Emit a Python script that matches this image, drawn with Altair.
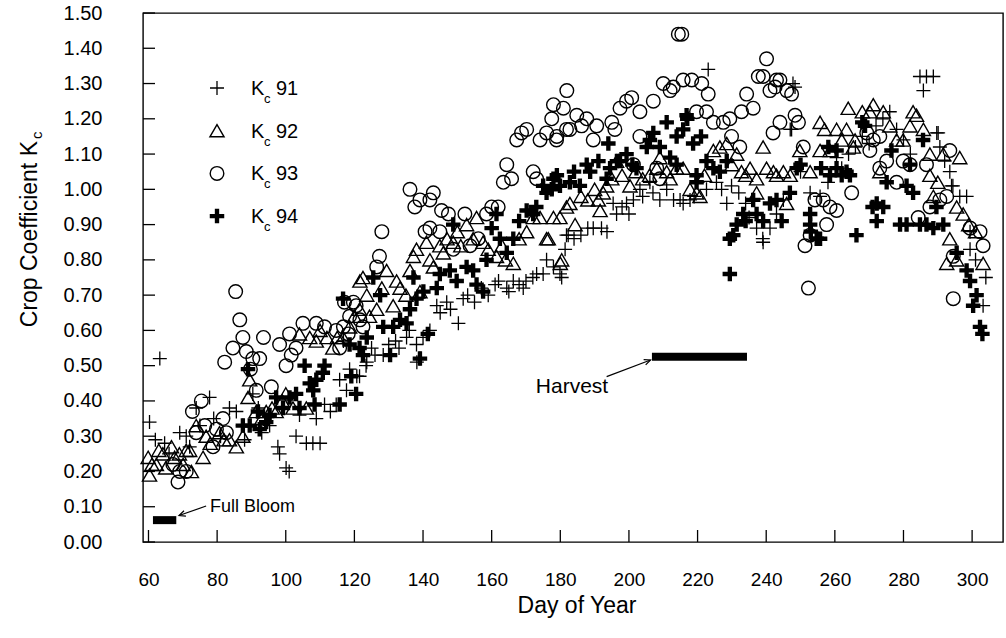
import altair as alt
import pandas as pd

# ---------------- data ----------------
kc91 = [(60.3,0.34),(63.3,0.52),(62,0.29),(64.7,0.28),(66,0.25),(69.1,0.31),(71,0.30),(72,0.27),(73.9,0.38),(75,0.33),
        (77.8,0.41),(79,0.35),(81,0.30),(83.6,0.38),(85.6,0.37),(87.5,0.33),(88,0.29),(90.4,0.42),(92,0.38),(93,0.31),
        (95.3,0.33),(97.7,0.27),(98.2,0.25),(100.1,0.21),(101,0.20),(103,0.30),(104,0.36),(106,0.28),(107.9,0.28),(108.9,0.35),
        (110,0.28),(111.3,0.39),(113,0.37),(114.7,0.39),(115.7,0.46),(116.8,0.57),(117.7,0.43),(118.6,0.49),(120.7,0.47),(121.5,0.47),
        (123.4,0.50),(123.6,0.51),(125,0.55),(126,0.53),(128.4,0.53),(130,0.56),(132,0.57),(133,0.55),(135.2,0.58),(136,0.60),
        (138.1,0.56),(138.2,0.51),(139.1,0.52),(140,0.58),(142,0.60),(144,0.67),(145,0.65),(146.9,0.68),(148,0.66),(150.3,0.62),
        (151.7,0.69),(153,0.70),(155,0.68),(157,0.72),(159,0.70),(161,0.73),(162,0.74),(164.4,0.72),(165,0.71),(166.3,0.74),
        (168,0.73),(169.2,0.72),(170,0.74),(172,0.75),(173.1,0.76),(175,0.76),(176,0.80),(178,0.78),(179.9,0.76),(180.4,0.75),
        (181.4,0.83),(181.8,0.87),(182.3,0.87),(184,0.86),(186,0.87),(188,0.89),(189.6,0.89),(192,0.89),(193.6,0.88),(195.4,0.96),
        (196.4,0.93),(198,0.95),(199.3,0.96),(200,0.93),(201.3,0.97),(203.2,1.00),(204,0.98),(206.1,1.02),(207,0.99),(209,0.97),
        (211,1.00),(213,0.97),(214.9,0.97),(215.8,0.96),(217.8,0.97),(219,0.98),(220,1.02),(222.6,1.00),(223.1,1.34),(225.5,1.02),
        (227,1.00),(228.5,0.96),(229.9,1.01),(232,0.99),(234,0.96),(235,0.92),(237.2,0.89),(239,0.86),(239.1,0.85),(241.1,0.89),
        (243,0.93),(245,0.97),(247,1.17),(247.4,1.17),(247.8,1.30),(248.4,1.29),(250,1.05),(252.8,0.99),(255.7,0.98),(258,1.02),
        (260.5,1.09),(262,1.06),(264,1.10),(266,1.12),(268,1.15),(270,1.13),(272,1.18),(274,1.20),(276,1.22),(278,1.17),
        (280,1.14),(282,1.10),(284.8,1.32),(285.8,1.28),(286.7,1.32),(288.7,1.32),(289.7,1.16),(290.1,1.16),(290.6,1.12),(292,1.08),
        (293.5,1.05),(294,1.01),(294.4,1.01),(296.4,0.98),(298.4,0.98),(299.4,0.88),(299.4,0.83),(301,0.80),(303.2,0.67),(304,0.75)]

kc92 = [(59.9,0.24),(60.3,0.19),(61,0.22),(62.3,0.22),(63,0.26),(64.2,0.25),(65,0.21),(66.7,0.27),(67.6,0.24),(69,0.25),
        (70.1,0.22),(71,0.26),(72,0.26),(72.5,0.20),(73.9,0.33),(75.9,0.24),(76.8,0.30),(78,0.28),(80.7,0.31),(82,0.29),
        (83.6,0.29),(85.6,0.27),(87.5,0.30),(89,0.41),(89.5,0.46),(91.4,0.37),(93,0.35),(94.3,0.37),(96,0.38),(97.2,0.37),
        (99,0.40),(100,0.42),(102.1,0.38),(104,0.59),(106,0.38),(107,0.58),(108.9,0.57),(110,0.60),(112,0.58),(113.7,0.55),
        (115,0.58),(116.7,0.58),(118.6,0.61),(120,0.64),(121.5,0.66),(121.6,0.74),(122.5,0.75),(123.6,0.70),(124.4,0.64),(126.5,0.66),
        (128,0.72),(129.4,0.77),(131.3,0.67),(132.3,0.74),(133.3,0.72),(135,0.70),(136.2,0.77),(137.2,0.81),(138.1,0.83),(139.1,0.71),
        (141,0.85),(142,0.80),(143,0.78),(144.9,0.84),(145.9,0.82),(147,0.86),(148.8,0.85),(150,0.88),(151,0.84),(152.7,0.90),
        (154.6,0.86),(155.6,0.92),(157.5,0.85),(159,0.83),(161.4,0.81),(163,0.84),(164,0.80),(166.3,0.79),(168,0.86),(170.2,0.88),
        (172.1,0.92),(174.1,0.92),(176,0.86),(176.5,0.86),(178,0.92),(179.9,0.92),(180,0.79),(180.4,0.80),(181.8,0.95),(182.8,0.96),
        (184.3,0.90),(186,0.98),(188,0.97),(190,1.00),(191.1,0.97),(191.6,0.94),(192.5,0.99),(193.5,1.01),(195,1.03),(196.4,1.08),
        (198,1.04),(200.3,1.01),(202,1.05),(204,1.03),(206,1.04),(208.1,1.06),(209,1.09),(211,1.05),(212,1.03),(213.9,1.06),
        (215.8,1.06),(217.8,1.00),(219.7,0.99),(220.7,0.98),(222,1.04),(224.6,1.11),(226.5,1.12),(228.5,1.13),(230,1.07),(231.4,1.10),
        (232.8,1.05),(234,1.04),(235.3,1.06),(237.2,1.03),(237.2,0.99),(239.1,1.12),(240.1,1.06),(242.1,1.05),(243,1.04),(245,1.05),
        (245.95,0.96),(247,1.04),(249.8,1.11),(252.8,1.05),(255.7,1.11),(255.7,1.19),(257,1.17),(258.6,1.11),(260.5,1.17),(262,1.14),
        (263.4,1.17),(263.9,1.23),(265.4,1.12),(265.9,1.14),(268,1.22),(270.2,1.22),(271.2,1.24),(273.1,1.05),(274.1,1.22),(276,1.18),
        (278,1.14),(279.9,1.14),(281.9,1.18),(282.8,1.22),(283.8,1.21),(285.8,1.17),(287.7,1.10),(287.7,1.04),(288.7,0.98),(290,1.02),
        (291.6,1.10),(292.6,0.79),(293.5,0.86),(295.5,0.95),(295.5,0.80),(296.4,1.09),(297.4,0.93),(299,0.90),(301,0.88),(303.2,0.79)]

kc93 = [(67.1,0.22),(68.6,0.17),(69.1,0.20),(71,0.20),(72.8,0.37),(73.9,0.31),(75.4,0.40),(76.4,0.33),(78.8,0.27),(79.8,0.32),
        (81.7,0.35),(82.2,0.51),(82.7,0.31),(84.6,0.55),(85.4,0.71),(86.6,0.63),(87.5,0.58),(88.5,0.54),(89.7,0.49),(90.4,0.52),
        (91.4,0.43),(92.4,0.52),(93.5,0.58),(95.8,0.44),(98.2,0.56),(100.1,0.50),(101.1,0.59),(101.6,0.53),(103,0.55),(105,0.62),
        (108.9,0.62),(111.3,0.61),(114.7,0.60),(115.7,0.55),(116.8,0.61),(117.1,0.68),(118.2,0.59),(118.6,0.64),(119.7,0.68),(120.5,0.67),
        (121.6,0.63),(122.5,0.61),(126.5,0.78),(127.3,0.81),(128,0.88),(136.2,1.00),(137.6,0.95),(139.1,0.97),(140.6,0.88),(142,0.89),
        (142,0.97),(143,0.99),(144.9,0.88),(145.4,0.94),(147.4,0.93),(148.8,0.83),(152.2,0.93),(153.7,0.84),(156.1,0.86),(158.5,0.93),
        (160,0.95),(161.9,0.95),(163.4,1.02),(164.4,1.07),(165.8,1.03),(167.3,1.14),(168.7,1.16),(170.2,1.17),(172.1,1.05),(173.1,1.03),
        (174.1,1.14),(176,1.16),(177.5,1.20),(178,1.24),(178.9,1.14),(179,1.15),(180.9,1.23),(181.8,1.17),(181.9,1.28),(182.8,1.17),
        (184.8,1.21),(186.2,1.18),(187.7,1.20),(189.6,1.14),(190.6,1.18),(195,1.19),(195.9,1.17),(197.4,1.23),(199.3,1.25),(200.8,1.26),
        (201.3,1.07),(203.2,1.22),(203.2,1.15),(207.1,1.25),(208.1,1.06),(209,1.03),(210,1.30),(212,1.28),(212.9,1.29),(214.4,1.44),
        (215.4,1.44),(215.8,1.31),(218.3,1.31),(219.7,1.22),(221.2,1.30),(222.6,1.22),(223.1,1.27),(224.6,1.19),(227.5,1.19),(229.4,1.20),
        (229.9,1.15),(232.3,1.12),(232.8,1.22),(234.3,1.27),(236.2,1.23),(237.7,1.32),(239.1,1.32),(240.1,1.37),(241.1,1.28),(242,1.16),
        (242.6,1.29),(243,1.31),(244,1.31),(244,1.19),(246,1.28),(247.4,1.27),(248.4,1.21),(249.4,1.19),(250.8,1.12),(251.3,0.84),
        (252.3,0.72),(252.8,0.87),(254.2,0.97),(256.6,0.97),(257.6,0.90),(258.6,0.95),(260.5,0.94),(264.9,0.99),(269.3,1.16),(270.2,1.11),
        (271.2,1.14),(273.1,1.15),(273.1,1.06),(275.1,1.08),(278,1.02),(279.9,1.08),(281.9,1.07),(284.3,0.92),(286.7,1.07),(287.7,0.95),
        (290.6,0.97),(292.6,0.98),(293.5,1.11),(294.5,0.81),(294.5,0.69),(299.4,0.89),(302.3,0.88),(303.2,0.84)]

kc94 = [(87.5,0.33),(89,0.49),(89.5,0.33),(91.9,0.37),(92.4,0.32),(94.3,0.34),(95.3,0.36),(97.2,0.41),(99.2,0.38),(101.1,0.41),
        (103,0.42),(104,0.38),(105.5,0.50),(107,0.45),(108,0.43),(108.4,0.39),(108.9,0.46),(110.8,0.48),(111.3,0.50),(115.7,0.39),
        (116.7,0.69),(118.6,0.56),(119.1,0.47),(120.5,0.42),(121.5,0.55),(122.5,0.53),(123.6,0.58),(125.5,0.75),(127.5,0.70),(128.4,0.61),
        (130.4,0.53),(131.3,0.61),(133.3,0.63),(135.2,0.62),(136.2,0.66),(137.2,0.75),(138.1,0.69),(139.1,0.52),(140.1,0.71),(141.4,0.59),
        (144,0.72),(144.9,0.76),(147.8,0.77),(148.8,0.90),(149.8,0.74),(152.7,0.78),(154.6,0.77),(155.6,0.73),(157.5,0.71),(158.5,0.80),
        (160,0.89),(161.4,0.93),(162.4,0.86),(164.4,0.82),(166.3,0.86),(168,0.91),(170.2,0.94),(172.1,0.93),(173,0.95),(175,1.01),
        (176,0.99),(177.5,1.00),(178,1.03),(179,1.04),(179.9,1.01),(182.8,1.02),(184,1.05),(185.7,1.01),(187.7,1.07),(188.7,1.05),
        (191.1,1.08),(193.5,1.03),(194,1.13),(194.5,1.06),(196.5,1.08),(197.4,1.08),(199.3,1.10),(201,1.07),(202.2,1.06),(205.2,1.12),
        (206.1,1.14),(207.1,1.16),(209,1.12),(211,1.19),(212,1.09),(213.9,1.15),(213.9,1.07),(215.8,1.17),(216.8,1.21),(217,1.20),
        (218.7,1.13),(219.7,1.04),(219.7,1.02),(221,1.15),(222.6,1.08),(224.6,1.06),(226.5,1.05),(228.5,1.08),(229.4,0.76),(229.4,0.86),
        (230.4,0.87),(231.4,0.90),(233.3,0.93),(234,0.91),(236.2,0.97),(237.2,0.93),(239.1,0.91),(241.1,0.96),(243,0.97),(244.5,0.91),
        (246.9,0.99),(248.9,1.06),(250,1.07),(252.8,0.93),(252.8,0.90),(253,0.88),(254.7,0.86),(255.7,0.86),(256,1.06),(258.1,1.12),
        (258.6,1.04),(260.5,1.11),(260.5,1.06),(262,1.04),(263.4,1.05),(264.4,1.04),(266.3,0.87),(268,1.19),(268.8,1.18),(271,0.95),
        (272.2,0.96),(272.2,0.91),(274.1,0.95),(275.1,1.02),(276.5,1.11),(279,0.90),(280.9,1.01),(280.9,0.90),(281.9,1.07),(282.8,0.99),
        (284.8,0.90),(285.7,1.14),(286.7,0.90),(288.7,0.89),(289.6,0.95),(291.6,0.90),(295.5,0.82),(298.4,0.77),(299.4,0.74),(300.3,0.67),
        (301.3,0.70),(302.3,0.61),(303,0.59)]

x_ticks = [60, 80, 100, 120, 140, 160, 180, 200, 220, 240, 260, 280, 300]
y_ticks = [0.0, 0.1, 0.2, 0.3, 0.4, 0.5, 0.6, 0.7, 0.8, 0.9, 1.0, 1.1, 1.2, 1.3, 1.4, 1.5]

series_names = ["91", "92", "93", "94"]

# phenology bars: label, start day, end day, Kc level
bars = [("Full Bloom", 61.3, 68.1, 0.062), ("Harvest", 206.7, 234.4, 0.525)]
# annotation arrows: tip day, tip Kc, tail day, tail Kc, head angle
arrows = [(68.9, 0.075, 76.8, 0.102, 340), (206.3, 0.516, 193.5, 0.469, 159)]
# annotation labels: text, day, Kc, align
notes = [("Full Bloom", 77.9, 0.099, "left"), ("Harvest", 183.4, 0.44, "center")]

# ---------------- chart ----------------
FONT = "Liberation Sans"
W, H = 860, 529

xs = alt.Scale(domain=[58.4, 309], nice=False, zero=False)
ys = alt.Scale(domain=[0, 1.5], nice=False, zero=False)

x_axis = alt.Axis(values=x_ticks, ticks=False, tickSize=0, domain=False, grid=False,
                  labelFontSize=19, labelFont=FONT, labelColor="black", labelPadding=28,
                  title=None, labelFlush=False)
y_axis = alt.Axis(values=y_ticks, ticks=False, tickSize=0, domain=False, grid=False,
                  labelFontSize=20, labelFont=FONT, labelColor="black", labelPadding=41,
                  format=".2f", title=None)

X = alt.X("day:Q", scale=xs, axis=x_axis)
Y = alt.Y("kc:Q", scale=ys, axis=y_axis)
X2 = alt.X2("day2:Q")
Y2 = alt.Y2("kc2:Q")

PLUS = "M-1,0L1,0M0,-1L0,1"
CROSS = ("M-1,-0.3L-0.3,-0.3L-0.3,-1L0.3,-1L0.3,-0.3L1,-0.3L1,0.3L0.3,0.3"
         "L0.3,1L-0.3,1L-0.3,0.3L-1,0.3Z")
ARROWHEAD = "M1,-0.45L0,0L1,0.45"

styles = {
    "91": dict(shape=PLUS, size=196, filled=False, stroke="black", strokeWidth=1.3, opacity=1),
    "92": dict(shape="triangle-up", size=200, filled=False, stroke="black", strokeWidth=1.4, opacity=1),
    "93": dict(shape="circle", size=185, filled=False, stroke="black", strokeWidth=1.4, opacity=1),
    "94": dict(shape=CROSS, size=210, filled=True, fill="black", strokeWidth=0, opacity=1),
}
data = {"91": kc91, "92": kc92, "93": kc93, "94": kc94}

layers = []

# inward ticks
layers.append(alt.Chart(pd.DataFrame({"kc": y_ticks})).mark_rule(color="black", strokeWidth=1.3)
              .encode(y=Y, x=alt.value(0), x2=alt.value(12)))
layers.append(alt.Chart(pd.DataFrame({"day": x_ticks})).mark_rule(color="black", strokeWidth=1.3)
              .encode(x=X, y=alt.value(H), y2=alt.value(H - 12)))

# scatter series
for name in series_names:
    df = pd.DataFrame(data[name], columns=["day", "kc"])
    layers.append(alt.Chart(df).mark_point(**styles[name]).encode(x=X, y=Y))

# phenology bars
bdf = pd.DataFrame(bars, columns=["label", "day", "day2", "kc"])
layers.append(alt.Chart(bdf).mark_rule(color="black", strokeWidth=8, strokeCap="butt")
              .encode(x=X, x2=X2, y=Y))

# arrows
adf = pd.DataFrame(arrows, columns=["day", "kc", "day2", "kc2", "ang"])
layers.append(alt.Chart(adf).mark_rule(color="black", strokeWidth=1.2)
              .encode(x=X, x2=X2, y=Y, y2=Y2))
layers.append(alt.Chart(adf).mark_point(shape=ARROWHEAD, size=160, filled=False, stroke="black",
                                        strokeWidth=1.2, opacity=1)
              .encode(x=X, y=Y, angle=alt.Angle("ang:Q", scale=None)))

# annotation labels
for text, d, k, al in notes:
    ndf = pd.DataFrame({"day": [d], "kc": [k], "t": [text]})
    fs = 18 if text == "Full Bloom" else 21
    layers.append(alt.Chart(ndf).mark_text(font=FONT, fontSize=fs, align=al, baseline="middle", color="black")
                  .encode(x=X, y=Y, text="t:N"))

# in-plot legend
for i, name in enumerate(series_names):
    yy = 75 + i * 42.7
    one = pd.DataFrame({"t": [name]})
    layers.append(alt.Chart(one).mark_point(**styles[name]).encode(x=alt.value(74), y=alt.value(yy)))
    layers.append(alt.Chart(one).mark_text(font=FONT, fontSize=20, align="left", baseline="middle", color="black")
                  .encode(x=alt.value(108), y=alt.value(yy + 1), text=alt.value("K")))
    layers.append(alt.Chart(one).mark_text(font=FONT, fontSize=13, align="left", baseline="middle", color="black")
                  .encode(x=alt.value(121), y=alt.value(yy + 11), text=alt.value("c")))
    layers.append(alt.Chart(one).mark_text(font=FONT, fontSize=20, align="left", baseline="middle", color="black")
                  .encode(x=alt.value(133), y=alt.value(yy + 1), text="t:N"))

# axis titles
tdf = pd.DataFrame({"t": ["Crop Coefficient K"]})
layers.append(alt.Chart(tdf).mark_text(font=FONT, fontSize=23, align="right", baseline="middle", angle=270,
                                       color="black")
              .encode(x=alt.value(-113), y=alt.value(128), text="t:N"))
layers.append(alt.Chart(tdf).mark_text(font=FONT, fontSize=15, align="left", baseline="middle", angle=270,
                                       color="black")
              .encode(x=alt.value(-106), y=alt.value(126), text=alt.value("c")))
layers.append(alt.Chart(pd.DataFrame({"t": ["Day of Year"]}))
              .mark_text(font=FONT, fontSize=23, align="center", baseline="middle", color="black")
              .encode(x=alt.value(434), y=alt.value(593), text="t:N"))

chart = (alt.layer(*layers)
         .properties(width=W, height=H, background="white",
                     autosize=alt.AutoSizeParams(type="none"),
                     padding={"left": 143, "top": 13, "right": 3, "bottom": 96})
         .configure_view(stroke="black", strokeWidth=1.4))

chart.save("out.html", embed_options={"renderer": "svg", "actions": False})
